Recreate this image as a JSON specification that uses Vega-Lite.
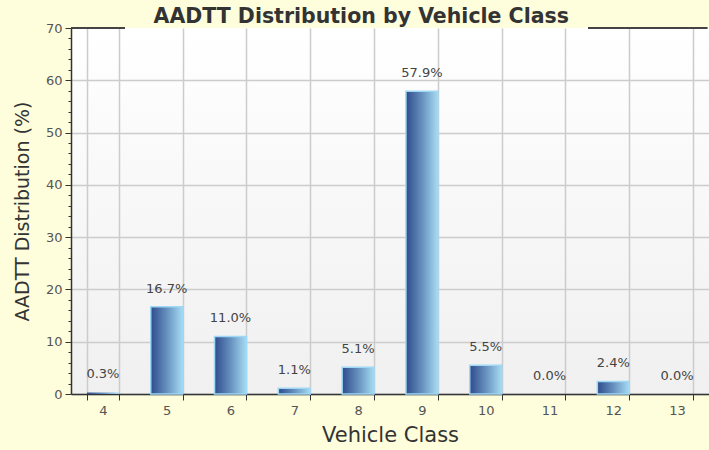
{
  "$schema": "https://vega.github.io/schema/vega-lite/v6.json",
  "width": 638,
  "height": 366,
  "autosize": {"type": "none"},
  "padding": {"left": 71, "top": 28, "right": 0, "bottom": 56},
  "background": "#fefedc",
  "title": {
    "text": "AADTT Distribution by Vehicle Class",
    "font": "DejaVu Sans",
    "fontSize": 20.5,
    "fontWeight": "bold",
    "color": "#333333",
    "anchor": "middle",
    "frame": "bounds",
    "offset": -5
  },
  "config": {
    "view": {
      "stroke": null,
      "fill": {
        "gradient": "linear",
        "x1": 0, "y1": 0, "x2": 0, "y2": 1,
        "stops": [{"offset": 0, "color": "#ffffff"}, {"offset": 1, "color": "#f0f0f0"}]
      }
    },
    "axis": {
      "labelFont": "DejaVu Sans",
      "labelFontSize": 13,
      "labelColor": "#555555",
      "titleFont": "DejaVu Sans",
      "titleFontWeight": "normal",
      "titleColor": "#333333",
      "domainColor": "#333333",
      "domainWidth": 1.5,
      "tickColor": "#333333",
      "gridColor": "#cccccc",
      "gridWidth": 1.5
    }
  },
  "data": {
    "values": [
      {"cls": "4", "pct": 0.3},
      {"cls": "5", "pct": 16.7},
      {"cls": "6", "pct": 11.0},
      {"cls": "7", "pct": 1.1},
      {"cls": "8", "pct": 5.1},
      {"cls": "9", "pct": 57.9},
      {"cls": "10", "pct": 5.5},
      {"cls": "11", "pct": 0.0},
      {"cls": "12", "pct": 2.4},
      {"cls": "13", "pct": 0.0}
    ]
  },
  "encoding": {
    "x": {
      "field": "cls",
      "type": "ordinal",
      "sort": null,
      "scale": {"paddingInner": 0.5, "paddingOuter": 0.25},
      "axis": {
        "title": "Vehicle Class",
        "titleFontSize": 21,
        "labelAngle": 0,
        "tickBand": "extent",
        "grid": true,
        "tickSize": 6,
        "labelPadding": 4,
        "titlePadding": 7
      }
    },
    "y": {
      "field": "pct",
      "type": "quantitative",
      "scale": {"domain": [0, 70], "nice": false},
      "axis": {
        "title": "AADTT Distribution (%)",
        "titleFontSize": 19,
        "values": [0,2,4,6,8,10,12,14,16,18,20,22,24,26,28,30,32,34,36,38,40,42,44,46,48,50,52,54,56,58,60,62,64,66,68,70],
        "labelExpr": "datum.value % 10 === 0 ? datum.label : ''",
        "tickSize": {"expr": "datum.value % 10 === 0 ? 6 : 3"},
        "gridOpacity": {"expr": "datum.value % 10 === 0 && datum.value < 70 ? 1 : 0"},
        "labelPadding": 3,
        "titlePadding": 13
      }
    }
  },
  "layer": [
    {
      "mark": {
        "type": "bar",
        "stroke": "#9fd8f5",
        "strokeWidth": 1.5,
        "color": {
          "gradient": "linear",
          "x1": 0, "y1": 0, "x2": 1, "y2": 0,
          "stops": [
            {"offset": 0, "color": "#2f4c8c"},
            {"offset": 0.5, "color": "#6690be"},
            {"offset": 1, "color": "#a6dcf2"}
          ]
        }
      },
      "encoding": {
        "strokeOpacity": {"condition": {"test": "datum.pct < 0.5", "value": 0}, "value": 1}
      }
    },
    {
      "mark": {
        "type": "text",
        "baseline": "bottom",
        "dy": -11,
        "font": "DejaVu Sans",
        "fontSize": 13,
        "color": "#444444",
        "text": {"expr": "format(datum.pct, '.1f') + '%'"}
      }
    },
    {
      "mark": {"type": "rule", "color": "#444444", "strokeWidth": 2},
      "encoding": {
        "x": {"datum": "4", "bandPosition": -0.5},
        "x2": {"datum": "5", "bandPosition": -0.81},
        "y": {"datum": 70}
      }
    },
    {
      "mark": {"type": "rule", "color": "#444444", "strokeWidth": 2},
      "encoding": {
        "x": {"datum": "11", "bandPosition": 1.72},
        "x2": {"datum": "13", "bandPosition": 1.44},
        "y": {"datum": 70}
      }
    }
  ]
}
